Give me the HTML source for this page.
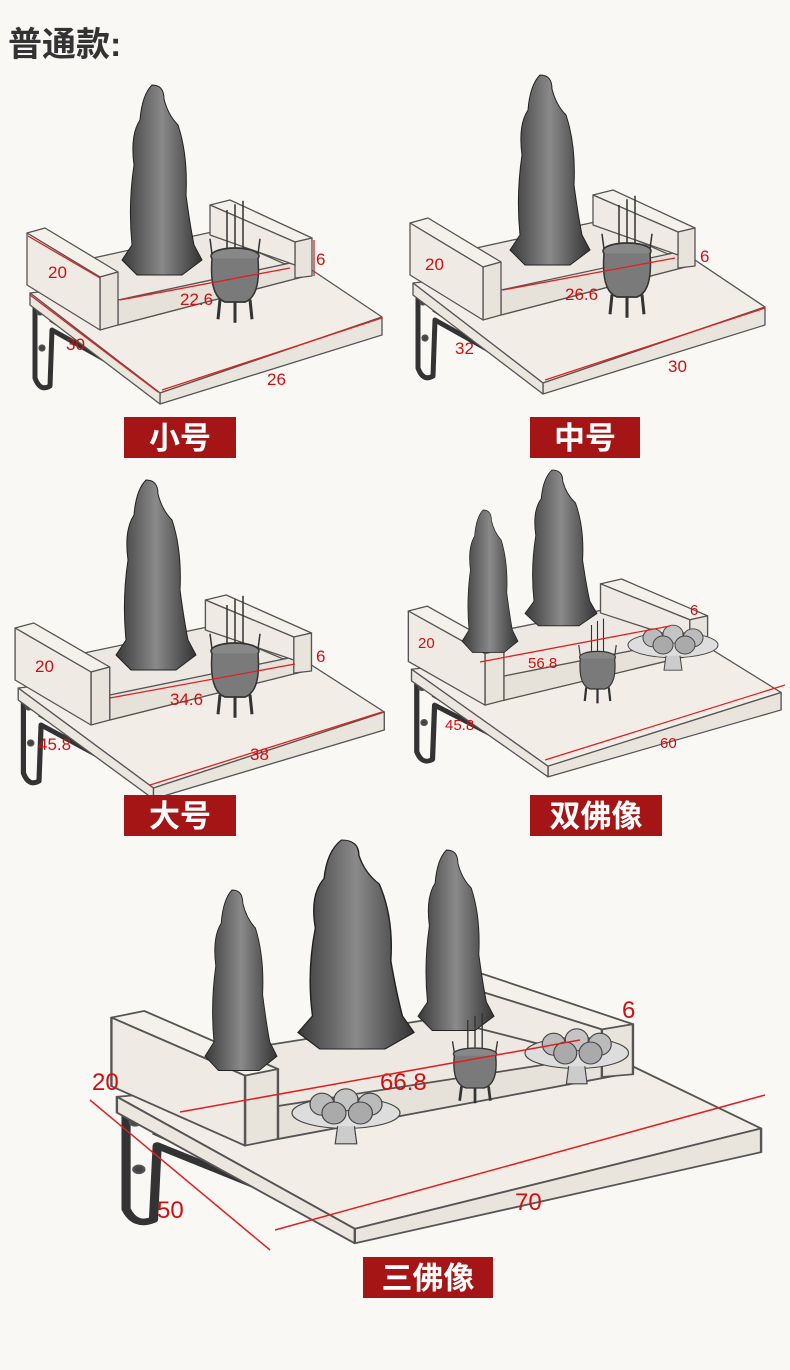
<!DOCTYPE html>
<html><head><meta charset="utf-8"><style>
body{margin:0;background:#faf8f5;}
svg{display:block}
text{font-family:"Liberation Sans","Noto Sans CJK SC",sans-serif}
</style></head><body>
<svg width="790" height="1370" viewBox="0 0 790 1370" xmlns="http://www.w3.org/2000/svg">
<defs>
<linearGradient id="st" x1="0" x2="1"><stop offset="0" stop-color="#3a3a3a"/><stop offset=".5" stop-color="#8a8a8a"/><stop offset="1" stop-color="#333"/></linearGradient>
<g id="shelf" stroke="#555" stroke-width="1.3" stroke-linejoin="round">
 <path d="M35,300 L35,378 Q40,392 50,386 L52,330 L145,382" fill="none" stroke="#333" stroke-width="5"/>
 <path d="M50,320 L140,378" stroke="#333" stroke-width="3" fill="none"/>
 <circle cx="40" cy="312" r="3" fill="#444"/><circle cx="42" cy="348" r="3" fill="#444"/>
 <polygon points="30,293 300,262 382,317 160,393" fill="#f2eee7"/>
 <polygon points="160,393 382,317 382,335 160,404" fill="#e9e4dc"/>
 <polygon points="30,293 160,393 160,404 30,305" fill="#ebe6de"/>
 <polygon points="75,262 212,232 310,275 118,325" fill="#ede9e2"/>
 <polygon points="118,300 295,262 310,275 118,325" fill="#e6e1d9"/>
 <polygon points="210,205 230,200 312,238 295,242" fill="#f4f1eb"/>
 <polygon points="295,242 312,238 312,276 295,278" fill="#e8e3db"/>
 <polygon points="210,205 295,242 295,265 210,235" fill="#efebe4"/>
 <polygon points="27,233 45,228 118,272 100,277" fill="#f4f1eb"/>
 <polygon points="100,277 118,272 118,325 100,330" fill="#e8e3db"/>
 <polygon points="27,233 100,277 100,330 27,285" fill="#efebe4"/>
</g>
<g id="statue">
 <path d="M30,0 Q42,0 42,14 Q46,30 56,40 Q66,70 64,110 Q68,140 72,160 L80,175 L60,190 L15,190 L0,175 L10,160 Q6,120 12,80 Q8,50 18,35 Q20,10 30,0Z" fill="url(#st)" stroke="#222" stroke-width="1"/>
</g>
<g id="burner" stroke="#333" stroke-width="1.5" fill="none">
 <line x1="22" y1="0" x2="22" y2="40"/><line x1="30" y1="-5" x2="30" y2="40"/><line x1="38" y1="-8" x2="38" y2="40"/>
 <path d="M5,25 L8,45 M55,25 L52,45"/>
 <ellipse cx="30" cy="40" rx="24" ry="7" fill="#888"/>
 <path d="M7,42 Q4,75 20,80 L40,80 Q56,75 53,42" fill="#7a7a7a"/>
 <path d="M15,78 L13,95 M30,80 L30,98 M45,78 L47,95" stroke-width="3"/>
</g>
<g id="fruit">
 <ellipse cx="45" cy="30" rx="45" ry="14" fill="#ddd" stroke="#444"/>
 <circle cx="25" cy="22" r="10" fill="#bbb" stroke="#444"/><circle cx="45" cy="18" r="10" fill="#c4c4c4" stroke="#444"/><circle cx="65" cy="22" r="10" fill="#bbb" stroke="#444"/>
 <circle cx="35" cy="30" r="10" fill="#aaa" stroke="#444"/><circle cx="57" cy="30" r="10" fill="#aaa" stroke="#444"/>
 <path d="M38,42 L36,58 L54,58 L52,42" fill="#ccc" stroke="#444"/>
</g>
</defs>

<text x="8" y="56" font-size="34" font-weight="bold" fill="#333">普通款:</text>

<!-- panel 1 -->
<use href="#shelf"/>
<use href="#statue" transform="translate(122,85) scale(1,1)"/>
<use href="#burner" transform="translate(205,210) scale(1,1.15)"/>
<g fill="#d01010" font-size="17">
<text x="48" y="278">20</text><text x="316" y="265">6</text><text x="180" y="305">22.6</text><text x="66" y="350">30</text><text x="267" y="385">26</text>
</g>
<g stroke="#e02020" stroke-width="1.3"><line x1="28" y1="236" x2="100" y2="278"/><line x1="120" y1="300" x2="290" y2="268"/><line x1="162" y1="390" x2="382" y2="318"/><line x1="30" y1="295" x2="158" y2="392"/><line x1="314" y1="240" x2="314" y2="276"/></g>

<!-- panel 2 -->
<use href="#shelf" transform="translate(383,-10)"/>
<use href="#statue" transform="translate(510,75)"/>
<use href="#burner" transform="translate(597,205) scale(1,1.15)"/>
<g fill="#d01010" font-size="17">
<text x="425" y="270">20</text><text x="700" y="262">6</text><text x="565" y="300">26.6</text><text x="455" y="354">32</text><text x="668" y="372">30</text>
</g>
<g stroke="#e02020" stroke-width="1.3"><line x1="503" y1="290" x2="675" y2="258"/><line x1="545" y1="380" x2="765" y2="308"/></g>

<!-- panel 3 -->
<use href="#shelf" transform="translate(-13,395) scale(1.04,1)"/>
<use href="#statue" transform="translate(116,480) scale(1,1.0)"/>
<use href="#burner" transform="translate(205,605) scale(1,1.15)"/>
<g fill="#d01010" font-size="17">
<text x="35" y="672">20</text><text x="316" y="662">6</text><text x="170" y="705">34.6</text><text x="38" y="750">45.8</text><text x="250" y="760">38</text>
</g>
<g stroke="#e02020" stroke-width="1.3"><line x1="110" y1="698" x2="295" y2="664"/><line x1="150" y1="785" x2="382" y2="712"/></g>

<!-- panel 4 -->
<use href="#shelf" transform="translate(380,385) scale(1.05,0.97)"/>
<use href="#statue" transform="translate(462,510) scale(0.7,0.75)"/>
<use href="#statue" transform="translate(525,470) scale(0.9,0.82)"/>
<use href="#burner" transform="translate(575,625) scale(0.75,0.8)"/>
<use href="#fruit" transform="translate(628,618) scale(1,0.9)"/>
<g fill="#d01010" font-size="15">
<text x="418" y="648">20</text><text x="690" y="615">6</text><text x="528" y="668">56.8</text><text x="445" y="730">45.8</text><text x="660" y="748">60</text>
</g>
<g stroke="#e02020" stroke-width="1.3"><line x1="480" y1="662" x2="670" y2="626"/><line x1="545" y1="760" x2="785" y2="685"/></g>

<!-- panel 5 -->
<use href="#shelf" transform="translate(62,710) scale(1.83,1.32)"/>
<use href="#statue" transform="translate(205,890) scale(0.9,0.95)"/>
<use href="#statue" transform="translate(298,840) scale(1.45,1.1)"/>
<use href="#statue" transform="translate(418,850) scale(0.95,0.95)"/>
<use href="#burner" transform="translate(448,1020) scale(0.9,0.85)"/>
<use href="#fruit" transform="translate(292,1080) scale(1.2,1.1)"/>
<use href="#fruit" transform="translate(525,1020) scale(1.15,1.1)"/>
<g fill="#d01010" font-size="24">
<text x="92" y="1090">20</text><text x="622" y="1018">6</text><text x="380" y="1090">66.8</text><text x="157" y="1218">50</text><text x="515" y="1210">70</text>
</g>
<g stroke="#e02020" stroke-width="1.5"><line x1="180" y1="1112" x2="580" y2="1040"/><line x1="275" y1="1230" x2="765" y2="1095"/><line x1="90" y1="1100" x2="270" y2="1250"/></g>

<!-- labels -->
<g fill="#a51515"><rect x="124" y="417" width="112" height="41"/><rect x="530" y="417" width="110" height="41"/><rect x="124" y="795" width="112" height="41"/><rect x="530" y="795" width="132" height="41"/><rect x="363" y="1257" width="130" height="41"/></g>
<g fill="#fff" font-size="31" font-weight="bold" text-anchor="middle"><text x="180" y="449">小号</text><text x="585" y="449">中号</text><text x="180" y="827">大号</text><text x="596" y="827">双佛像</text><text x="428" y="1289">三佛像</text></g>
</svg>
</body></html>
